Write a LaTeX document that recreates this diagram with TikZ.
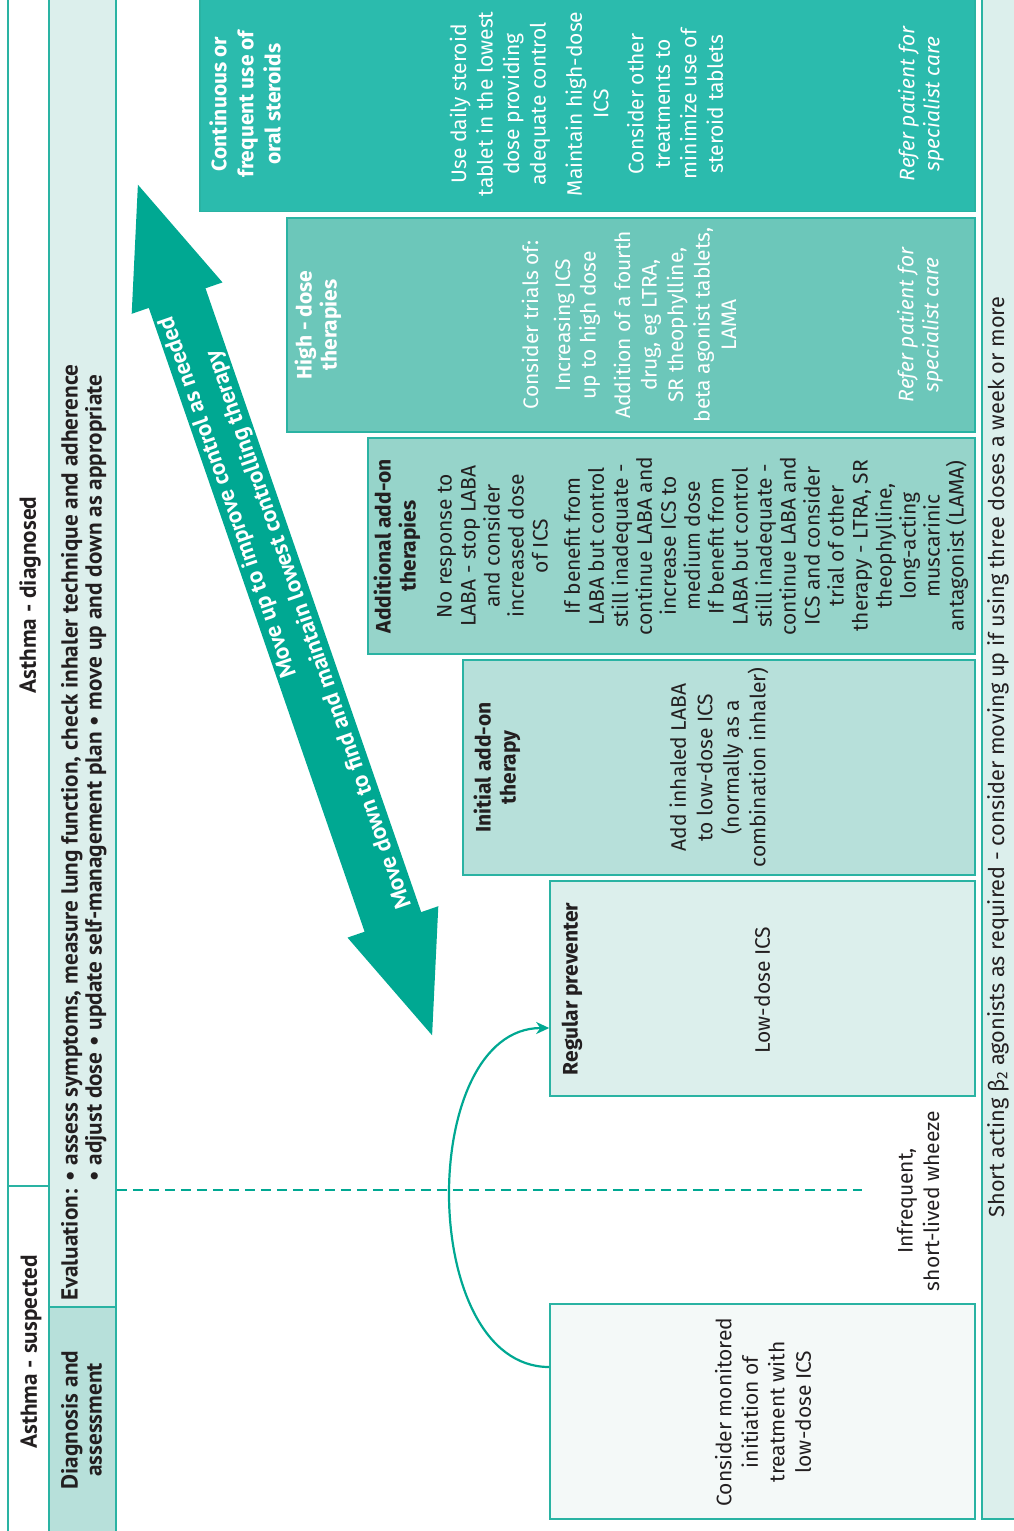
\documentclass[tikz,border=0pt]{standalone}
\usepackage{fontspec}
\setmainfont{Fira Sans}
\newfontfamily\hdrfont{PT Sans}
\usetikzlibrary{arrows.meta}
\definecolor{tealline}{HTML}{2AB3A3}
\definecolor{cA}{HTML}{2BBBAD}
\definecolor{cB}{HTML}{6CC7BA}
\definecolor{cC}{HTML}{96D4CA}
\definecolor{cD}{HTML}{B7E0DA}
\definecolor{cE}{HTML}{DCEFEC}
\definecolor{cF}{HTML}{F4F9F8}
\definecolor{arrowc}{HTML}{00A892}
\definecolor{txt}{HTML}{231F20}
\tikzset{
  box/.style={draw=tealline, line width=1.6pt, rectangle, inner sep=0pt},
  rt/.style={rotate=90, align=center, inner sep=0pt, text=txt},
  body/.style={font=\fontsize{21}{26.5}\selectfont},
  tight/.style={font=\fontsize{21}{24}\selectfont},
  ttl/.style={font=\bfseries\fontsize{21}{25}\selectfont},
  hdr/.style={font=\hdrfont\bfseries\fontsize{23.2}{24}\selectfont},
  arrtxt/.style={rotate=109.1, align=center, inner sep=0pt, text=white, font=\hdrfont\bfseries\fontsize{23.3}{24}\selectfont},
  conn/.style={draw=arrowc, line width=2.2pt},
  dashline/.style={draw=arrowc, line width=2pt, dash pattern=on 10pt off 6pt}
}
\begin{document}
\begin{tikzpicture}[x=1pt,y=-1pt]
\clip (0,0) rectangle (1014,1531);
% left columns
\node[box, fill=white, minimum width=41pt, minimum height=1192pt] (diagnosed) at (28.5,590) {};
\node[box, fill=white, minimum width=41pt, minimum height=351pt] (suspected) at (28.5,1361.5) {};
\node[box, fill=cE, minimum width=67pt, minimum height=1313pt] (eval) at (82.5,650.5) {};
\node[box, fill=cD, minimum width=67pt, minimum height=230pt] (diag) at (82.5,1422) {};
% boxes
\node[box, fill=cA, minimum width=775pt, minimum height=215pt] (cont) at (587.5,104) {};
\node[box, fill=cB, minimum width=688pt, minimum height=214pt] (high) at (631,325) {};
\node[box, fill=cC, minimum width=607pt, minimum height=216pt] (addl) at (671.5,546) {};
\node[box, fill=cD, minimum width=512pt, minimum height=215pt] (init) at (719,767.5) {};
\node[box, fill=cE, minimum width=425pt, minimum height=215pt] (reg) at (762.5,988.5) {};
\node[box, fill=cF, minimum width=425pt, minimum height=215pt] (mon) at (762.5,1411.5) {};
\node[box, fill=cE, minimum width=58pt, minimum height=1524pt] (bar) at (1011,757) {};
% header texts
\node[rt, hdr] at (30,595) {Asthma - diagnosed};
\node[rt, hdr] at (31,1352) {Asthma - suspected};
\node[rt, hdr] at (81.5,1420) {Diagnosis and\\assessment};
\node[rt, hdr, anchor=base west] at (77.5,1301) {Evaluation: \begin{tabular}[t]{@{}l@{}}\textbullet\ assess symptoms, measure lung function, check inhaler technique and adherence\\ \textbullet\ adjust dose \textbullet\ update self-management plan \textbullet\ move up and down as appropriate\end{tabular}};
% dashed line
\coordinate (dashend) at (862,1190);
\draw[dashline] (eval.east |- dashend) -- (dashend);
% big arrow
\fill[arrowc] (137.9,184.7) -- (222.5,282.4) -- (205.5,288.3) -- (421.2,912.1) -- (438.3,906.2) -- (432.1,1035.3) -- (347.5,937.6) -- (364.6,931.7) -- (148.8,307.9) -- (131.7,313.8) -- cycle;
\node[arrtxt] (up) at (228.5,497) {Move up to improve control as needed};
\node[arrtxt] (down) at (309.5,629.5) {Move down to find and maintain lowest controlling therapy};
% continuous box
\node[rt, ttl, text=white, font=\bfseries\fontsize{21}{27}\selectfont] at (245,104) {Continuous or\\frequent use of\\oral steroids};
\node[rt, body, text=white] at (500,104) {Use daily steroid\\tablet in the lowest\\dose providing\\adequate control};
\node[rt, body, text=white] at (587,104) {Maintain high-dose\\ICS};
\node[rt, body, text=white] at (675,104) {Consider other\\treatments to\\minimize use of\\steroid tablets};
\node[rt, body, text=white, font=\itshape\fontsize{21}{25}\selectfont] at (921,104) {Refer patient for\\specialist care};
% high dose
\node[rt, ttl, text=white] at (318,325) {High - dose\\therapies};
\node[rt, body, text=white] at (530,325) {Consider trials of:};
\node[rt, body, text=white, font=\fontsize{21}{25.5}\selectfont] at (577,325) {Increasing ICS\\up to high dose};
\node[rt, body, text=white] at (675,325) {Addition of a fourth\\drug, eg LTRA,\\SR theophylline,\\beta agonist tablets,\\LAMA};
\node[rt, body, text=white, font=\itshape\fontsize{21}{25}\selectfont] at (920,325) {Refer patient for\\specialist care};
% additional
\node[rt, ttl] at (397,546) {Additional add-on\\therapies};
\node[rt, tight] at (492.5,546) {No response to\\LABA - stop LABA\\and consider\\increased dose\\of ICS};
\node[rt, tight] at (632,546) {If benefit from\\LABA but control\\still inadequate -\\continue LABA and\\increase ICS to\\medium dose};
\node[rt, tight] at (838,546) {If benefit from\\LABA but control\\still inadequate -\\continue LABA and\\ICS and consider\\trial of other\\therapy - LTRA, SR\\theophylline,\\long-acting\\muscarinic\\antagonist (LAMA)};
% initial
\node[rt, ttl] at (497,767.5) {Initial add-on\\therapy};
\node[rt, body] at (719,767.5) {Add inhaled LABA\\to low-dose ICS\\(normally as a\\combination inhaler)};
% regular
\node[rt, ttl] at (572,989) {Regular preventer};
\node[rt, body] at (762,990) {Low-dose ICS};
% monitored
\node[rt, body] at (763,1412) {Consider monitored\\initiation of\\treatment with\\low-dose ICS};
\node[rt, body] at (918,1201) {Infrequent,\\short-lived wheeze};
% right bar
\node[rt, font=\fontsize{21.7}{24}\selectfont] at (998,757) {Short acting β\textsubscript{2} agonists as required - consider moving up if using three doses a week or more};
% curved connector
\draw[conn, -{Stealth[length=13pt, width=12pt, inset=4pt]}] ([yshift=44.5pt]mon.west) .. controls (417,1367) and (417,1028) .. ([yshift=-39.5pt]reg.west);
\end{tikzpicture}
\end{document}
